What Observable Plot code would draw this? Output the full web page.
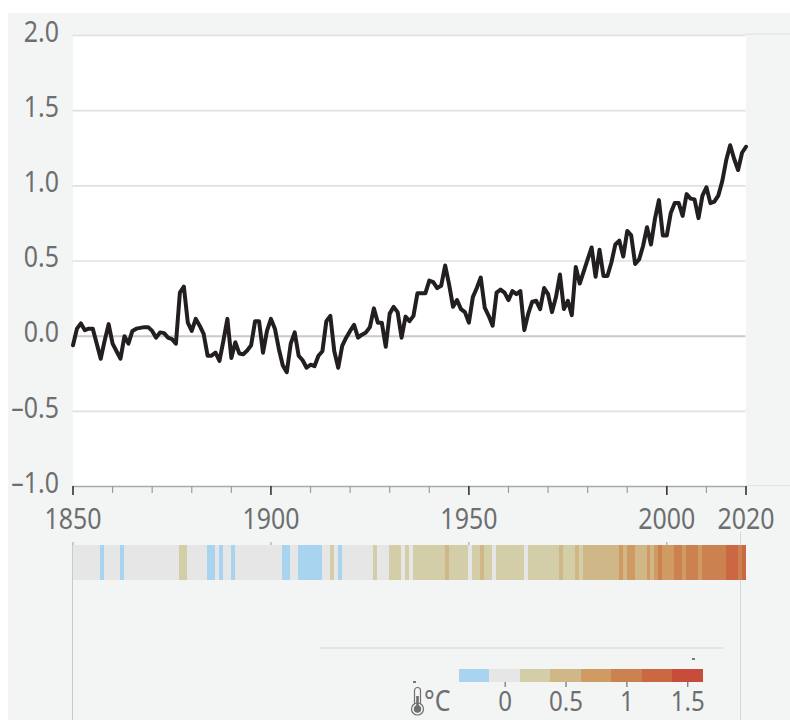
<!DOCTYPE html>
<html>
<head>
<meta charset="utf-8">
<script src="https://cdn.jsdelivr.net/npm/d3@7"></script>
<script src="https://cdn.jsdelivr.net/npm/@observablehq/plot@0.6"></script>
<style>
  html, body { margin: 0; padding: 0; background: #fff; }
  #page { position: relative; width: 790px; height: 720px; overflow: hidden; background: #fff; }
  #panel { position: absolute; left: 8px; top: 13px; right: 0; bottom: 0; background: #f3f5f5; }
  .layer { position: absolute; left: 0; }
  .layer svg { display: block; overflow: visible; }
  .vline { position: absolute; width: 1px; background: #c9cbcb; }
  .hseg { position: absolute; }
  .speck { position: absolute; width: 3px; height: 2px; background: #77797a; }
  .unit { position: absolute; left: 424px; top: 685px; font: 29px "Noto Sans", sans-serif; color: #6d6e70; line-height: 1; transform: scaleX(0.86); transform-origin: left top; }
</style>
</head>
<body>
<div id="page">
  <div id="panel"></div>
  <div class="hseg" style="left:745px;top:33px;width:45px;height:2px;background:#e8eaea"></div>
  <div class="hseg" style="left:745px;top:485px;width:45px;height:1px;background:#e4e6e6"></div>
  <div class="vline" style="left:72px;top:545px;height:175px"></div>
  <div class="vline" style="left:740px;top:532px;height:188px;background:#d6d8d8"></div>
  <div class="hseg" style="left:320px;top:647px;width:403px;height:2px;background:#e3e5e5"></div>
  <div class="speck" style="left:692px;top:658px"></div>
  <div class="speck" style="left:413px;top:681px"></div>
  <div id="main" class="layer" style="top:0"></div>
  <div id="stripes" class="layer" style="top:530px"></div>
  <div id="legend" class="layer" style="top:640px"></div>
  <svg style="position:absolute;left:410px;top:686px" width="15" height="31" viewBox="0 0 15 31">
    <rect x="4.5" y="1.5" width="6" height="20" rx="3" fill="none" stroke="#6d6e70" stroke-width="1.2"/>
    <circle cx="7.5" cy="23" r="6" fill="#f3f5f5" stroke="#6d6e70" stroke-width="1.2"/>
    <circle cx="7.5" cy="23" r="3.7" fill="#6d6e70"/>
    <rect x="6.2" y="10" width="2.6" height="12" fill="#6d6e70"/>
  </svg>
  <div class="unit">°C</div>
</div>
<script>
const firstYear = 1850;
const anomalies = [
  -0.06, 0.05, 0.085, 0.04, 0.05, 0.05, -0.05, -0.15, -0.03, 0.08,
  -0.05, -0.10, -0.15, 0.0, -0.05, 0.035, 0.05, 0.055, 0.06, 0.06,
  0.035, -0.01, 0.025, 0.02, -0.01, -0.02, -0.05, 0.29, 0.33, 0.09,
  0.035, 0.115, 0.07, 0.015, -0.13, -0.13, -0.11, -0.165, -0.03, 0.115,
  -0.145, -0.04, -0.115, -0.12, -0.095, -0.06, 0.10, 0.10, -0.11, 0.035,
  0.115, 0.05, -0.085, -0.195, -0.24, -0.05, 0.025, -0.13, -0.16, -0.21,
  -0.19, -0.20, -0.13, -0.10, 0.10, 0.135, -0.10, -0.21, -0.065, -0.01,
  0.035, 0.075, -0.01, 0.01, 0.025, 0.06, 0.185, 0.09, 0.09, -0.07,
  0.15, 0.195, 0.16, -0.01, 0.13, 0.10, 0.135, 0.285, 0.285, 0.285,
  0.37, 0.36, 0.32, 0.335, 0.47, 0.345, 0.195, 0.24, 0.18, 0.16,
  0.09, 0.26, 0.32, 0.39, 0.19, 0.135, 0.07, 0.29, 0.31, 0.29,
  0.24, 0.30, 0.28, 0.30, 0.04, 0.15, 0.23, 0.235, 0.18, 0.32,
  0.28, 0.16, 0.26, 0.41, 0.18, 0.235, 0.14, 0.46, 0.35, 0.43,
  0.51, 0.59, 0.395, 0.575, 0.40, 0.40, 0.49, 0.61, 0.635, 0.53,
  0.70, 0.67, 0.48, 0.51, 0.60, 0.725, 0.61, 0.78, 0.905, 0.67,
  0.67, 0.82, 0.885, 0.885, 0.80, 0.945, 0.915, 0.91, 0.785, 0.935,
  0.99, 0.885, 0.895, 0.935, 1.03, 1.17, 1.27, 1.18, 1.105, 1.22,
  1.26
];
const thresholds = [-0.125, 0.125, 0.375, 0.625, 0.875, 1.125, 1.375];
const bandEdges = [-0.375, -0.125, 0.125, 0.375, 0.625, 0.875, 1.125, 1.375, 1.625];
const bandColors = ["#a8d4ef", "#e6e6e6", "#d3cda8", "#d0b787", "#cf9b63", "#cc8250", "#cb6843", "#c84c3c"];
const yTicks = [-1, -0.5, 0, 0.5, 1, 1.5, 2];
const yGrid = [-0.5, 0.5, 1, 1.5, 2];
const majorYears = [1850, 1900, 1950, 2000, 2020];
const minorYears = [1860, 1870, 1880, 1890, 1910, 1920, 1930, 1940, 1960, 1970, 1980, 1990, 2010];
const stripeMarks = [1850, 1900, 1950, 2000];
const legendTicks = [0, 0.5, 1, 1.5];

const rows = anomalies.map((v, i) => ({year: firstYear + i, v}));
const stripeRows = rows.slice(0, rows.length - 1);
const bands = bandColors.map((c, i) => ({a: bandEdges[i], b: bandEdges[i + 1], c}));

const FONT = '"Noto Sans", sans-serif';
const GREY = "#6d6e70";

// The reference's lettering is a tall, narrow face: squeeze every label horizontally.
function condense(svg) {
  svg.querySelectorAll("text").forEach(t => {
    const tr = t.getAttribute("transform") || "";
    t.setAttribute("transform", tr + " scale(0.86,1)");
  });
  return svg;
}

const main = Plot.plot({
  width: 790, height: 535,
  marginLeft: 72.5, marginRight: 44.5, marginTop: 35, marginBottom: 49,
  style: {background: "transparent", fontFamily: FONT},
  x: {domain: [1850, 2020]},
  y: {domain: [-1, 2]},
  marks: [
    Plot.frame({fill: "#fff", stroke: "none"}),
    Plot.ruleY(yGrid, {stroke: "#dfe0e0", strokeWidth: 1.6}),
    Plot.ruleY([0], {stroke: "#c9c9c9", strokeWidth: 2}),
    Plot.ruleY([-1], {stroke: "#a9abab", strokeWidth: 1.6}),
    Plot.axisX({ticks: minorYears, tickFormat: () => "", label: null, tickSize: 7, stroke: "#9a9c9c", strokeWidth: 1.2}),
    Plot.axisX({ticks: majorYears, tickFormat: d => String(d), label: null, tickSize: 9, tickPadding: 13, stroke: "#333", strokeWidth: 1.6, fill: GREY, fontSize: 29}),
    Plot.axisY({ticks: yTicks, tickSize: 0, tickPadding: 14, dy: -3, label: null, fontSize: 29, fill: GREY,
      tickFormat: d => (d < 0 ? "–" : "") + Math.abs(d).toFixed(1)}),
    Plot.line(rows, {x: "year", y: "v", stroke: "#231f20", strokeWidth: 4, strokeLinejoin: "round"})
  ]
});
document.getElementById("main").append(condense(main));

const stripes = Plot.plot({
  width: 790, height: 50,
  marginLeft: 72.5, marginRight: 44.5, marginTop: 15, marginBottom: 0,
  style: {background: "transparent"},
  x: {domain: [1850, 2020], axis: null},
  color: {type: "threshold", domain: thresholds, range: bandColors},
  marks: [
    Plot.rect(stripeRows, {x1: "year", x2: d => d.year + 1, fill: "v", shapeRendering: "crispEdges"}),
    Plot.tickX(stripeMarks, {x: d => d, stroke: "#9a9c9c", insetTop: -3, insetBottom: 35})
  ]
});
document.getElementById("stripes").append(stripes);

const legend = Plot.plot({
  width: 790, height: 80,
  marginLeft: 459, marginRight: 87.5, marginTop: 29, marginBottom: 38,
  style: {background: "transparent", fontFamily: FONT},
  x: {domain: [-0.375, 1.625]},
  marks: [
    Plot.rect(bands, {x1: "a", x2: "b", fill: "c", shapeRendering: "crispEdges"}),
    Plot.axisX({ticks: legendTicks, label: null, tickSize: 5, tickPadding: 4, stroke: "#555", fill: GREY, fontSize: 28,
      tickFormat: d => String(d)})
  ]
});
document.getElementById("legend").append(condense(legend));
</script>
</body>
</html>
